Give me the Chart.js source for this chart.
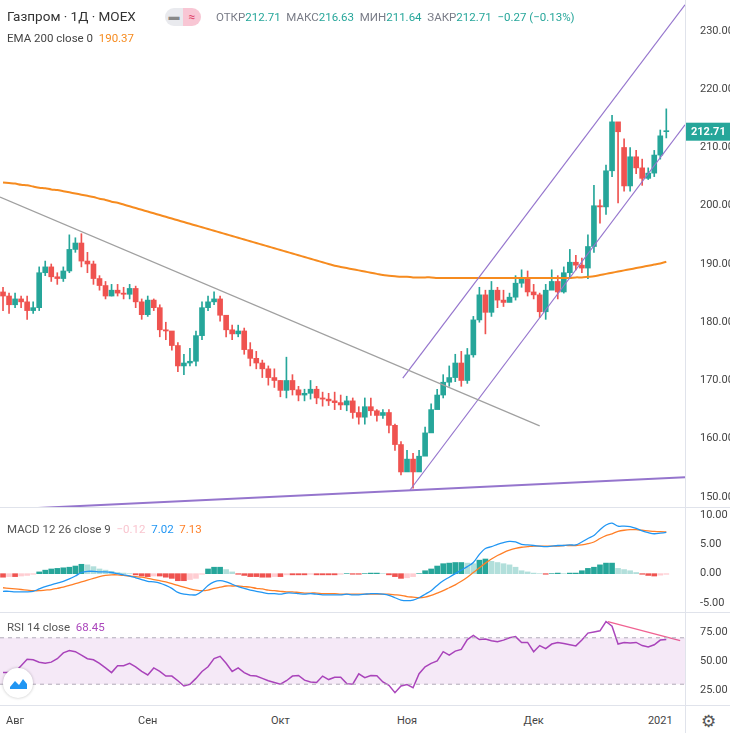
<!DOCTYPE html>
<html>
<head>
<meta charset="utf-8">
<script src="https://cdn.jsdelivr.net/npm/chart.js@4.4.1/dist/chart.umd.min.js"></script>
<style>
  body { margin: 0; background: #fff; font-family: Roboto, "Noto Sans", sans-serif; }
  #wrap { position: relative; width: 730px; height: 733px; overflow: hidden; }
  .pane { position: absolute; left: 0; width: 730px; }
  .sep { position: absolute; background: #e0e3eb; }
  .txt { position: absolute; white-space: nowrap; font-size: 11.5px; color: #555; }
  .xl { position: absolute; top: 714px; font-size: 11px; color: #444; transform: translateX(-50%); }
  .g { color: #787b86; } .t { color: #26a69a; }
</style>
</head>
<body>
<div id="wrap">
  <div class="pane" style="top:0;height:507px"><canvas id="mainChart"></canvas></div>
  <div class="pane" style="top:507px;height:105px"><canvas id="macdChart"></canvas></div>
  <div class="pane" style="top:612px;height:93px"><canvas id="rsiChart"></canvas></div>

  <div class="sep" style="left:0;top:507px;width:730px;height:1px"></div>
  <div class="sep" style="left:0;top:612px;width:730px;height:1px"></div>
  <div class="sep" style="left:0;top:705px;width:730px;height:1px"></div>
  <div class="sep" style="left:685px;top:0;width:1px;height:733px"></div>

  <div class="txt" style="left:7px;top:8px;font-size:13.5px;color:#333">Газпром · 1Д · MOEX</div>
  <div style="position:absolute;left:165px;top:8px;width:36px;height:18px;border-radius:9px;overflow:hidden;display:flex">
    <div style="flex:1;background:#e9eaee;color:#888;font-size:11px;text-align:center;line-height:18px">▬</div>
    <div style="flex:1;background:#f8c6d4;color:#e0476d;font-size:12px;text-align:center;line-height:18px">≈</div>
  </div>
  <div class="txt" style="left:216px;top:10px"><span class="g">ОТКР</span><span class="t">212.71</span>&nbsp; <span class="g">МАКС</span><span class="t">216.63</span>&nbsp; <span class="g">МИН</span><span class="t">211.64</span>&nbsp; <span class="g">ЗАКР</span><span class="t">212.71</span>&nbsp; <span class="t">−0.27 (−0.13%)</span></div>
  <div class="txt" style="left:7px;top:31px;color:#444">EMA 200 close 0&nbsp; <span style="color:#f68b1f">190.37</span></div>
  <div class="txt" style="left:7px;top:522px;color:#555">MACD 12 26 close 9&nbsp; <span style="color:#f9c5cf">−0.12</span>&nbsp; <span style="color:#2196f3">7.02</span>&nbsp; <span style="color:#ff7f27">7.13</span></div>
  <div class="txt" style="left:7px;top:620px;color:#555">RSI 14 close&nbsp; <span style="color:#ab47bc">68.45</span></div>

  <div style="position:absolute;left:3px;top:668px;width:30px;height:30px;border-radius:50%;background:#fff;box-shadow:0 0 3px rgba(0,0,0,0.25)">
    <svg width="30" height="30" viewBox="0 0 30 30"><path d="M7 19 L12 13 L16 17 L20 11 L24 16 L24 21 L7 21 Z" fill="#2196f3"/></svg>
  </div>
  <div class="txt" style="left:701px;top:711px;font-size:17px;color:#555">⚙</div>
  <div id="xLabels"></div>
</div>

<script>
// Candles, Aug 2020 - Jan 2021 (daily)
const opens = [
  185.2,184.5,183,184,183.5,182,182.5,188.5,189.5,187.8,
  187.5,188.8,192.5,193.6,190.5,190,187.5,186.3,184.5,185.5,
  185,184.8,185.8,183.5,181.3,183.8,182.5,178.7,178.5,176,
  172.5,173,173.3,177.7,182.5,183.5,184,181.2,178.7,178,
  178.5,175.3,173.8,173,172,170.5,170,168.3,170,168.4,
  167.5,167.8,168.5,167,166.8,166.5,166.2,165.8,166.5,164.5,
  163.7,165.5,164.8,164,164.5,162.3,159,154.3,156.5,154.3,
  157,161,165,167.5,169.7,170.5,173,170,174.4,180.4,
  184.7,181.7,185.5,183.8,183.4,184.3,186.7,187.6,185.2,184.7,
  181.8,185.5,187,185.2,188.5,190.3,189.8,189.3,193,200,
  199.8,206,214.4,210,203.4,208.4,206.5,204.7,205.6,208.7,
  212.71
];
const highs = [
  186,185,185,184.5,184.5,183.5,189.5,190.5,190,188.5,
  189.5,195,194.5,195.2,192,190.5,188,187,186.5,186.5,
  186,186.5,186.2,184,184.5,184,183,180,177,176.5,
  174.5,175.5,178.5,183.5,184.5,185.2,184.5,181,179.5,179.5,
  179,176.5,175,173.5,172.5,172,170,174,171,169,
  168.5,170,169,168,167.8,168,167.5,167.3,167,165.5,
  167,167,165,165,165,162.5,159.5,158,157.5,158,
  162,166,168.5,171,172.5,174.5,175,175.5,181,186,
  185.5,187,186,185.5,185,188,189,188.8,186.5,185,
  186.5,189,188,189.5,192.5,191.5,191,195,203.5,201,
  207,215.5,213.5,211.5,210,209.5,208,206.5,209.5,213,
  216.63
];
const lows = [
  182,181.5,182.5,182.5,180.5,181.5,182,188,187,186.5,
  187,188.5,192,189.5,188.5,186.5,185.5,184,184.5,184.5,
  184,184,182.5,180.5,181,182,177.5,177,175.2,171.5,
  171,172.5,172.5,177,182,183,180.2,177.5,177,177.5,
  174.5,172.5,172,170.5,169.2,168.8,167.2,167,167.5,166.5,
  166.5,166.8,166,165.6,165.7,165,165,164.8,163.5,162.5,
  162.5,164,163,163.5,161,158,153.8,155,151.5,156,
  159.5,164,166.5,167,169,169.8,169,169.5,174,180,
  178,181,182.5,182.7,183.5,183.8,186,184.5,184,180.8,
  180.5,186.2,184,185,187.5,189,188.5,187.5,192,197,
  198.5,205,200.5,202.5,202.5,205.5,203.5,204.5,205,208,
  211.64
];
const closes = [
  184.5,183,184,183.5,182,182.5,188.5,189.5,187.8,187.5,
  188.8,192.5,193.6,190.5,190,187.5,186.3,184.5,185.5,185,
  184.8,185.8,183.5,181.3,183.8,182.5,178.7,178.5,176,172.5,
  173,173.3,177.7,182.5,183.5,184,181.2,178.7,178,178.5,
  175.3,173.8,173,172,170.5,170,168.3,170,168.4,167.5,
  167.8,168.5,167,166.8,166.5,166.2,165.8,166.5,164.5,163.7,
  165.5,164.8,164,164.5,162.3,159,154.3,156.5,154.3,157,
  161,165,167.5,169.7,170.5,173,170,174.4,180.4,184.7,
  181.7,185.5,183.8,183.4,184.3,186.7,187.6,185.2,184.7,181.8,
  185.5,187,185.2,188.5,190.3,189.8,189.3,193,200,199.8,
  206,214.4,212.7,203.4,208.4,206.5,204.7,205.6,208.7,212,
  212.71
];
const ema200 = [
  204,203.9,203.8,203.6,203.5,203.3,203.1,203,202.8,202.7,
  202.5,202.3,202.1,201.9,201.7,201.5,201.2,201,200.7,200.5,
  200.2,199.9,199.6,199.3,199,198.7,198.4,198.1,197.8,197.5,
  197.2,196.9,196.6,196.3,196,195.7,195.4,195.1,194.8,194.5,
  194.2,193.9,193.6,193.3,193,192.7,192.4,192.1,191.8,191.5,
  191.2,190.9,190.6,190.3,190,189.7,189.5,189.3,189.1,188.9,
  188.7,188.5,188.3,188.1,188,187.9,187.8,187.8,187.7,187.7,
  187.7,187.7,187.6,187.6,187.6,187.6,187.6,187.6,187.6,187.6,
  187.6,187.6,187.6,187.6,187.6,187.6,187.6,187.6,187.6,187.6,
  187.6,187.6,187.6,187.6,187.6,187.7,187.7,187.8,187.9,188.1,
  188.3,188.5,188.7,188.9,189.1,189.3,189.5,189.7,189.9,190.1,
  190.37
];
const macdLine = [
  -3,-3,-3.1,-3.1,-3.1,-3,-2.6,-2.2,-1.9,-1.6,
  -1.3,-0.9,-0.4,0.2,0.4,0.4,0.3,0.3,0.2,0,
  -0.2,-0.4,-0.7,-1,-1.3,-1.4,-1.6,-2,-2.5,-3.2,
  -3.5,-3.6,-3.6,-3,-2,-1.4,-1.2,-1.4,-1.8,-2.2,
  -2.5,-2.8,-3,-3.2,-3.4,-3.4,-3.5,-3.3,-3.3,-3.4,
  -3.5,-3.4,-3.5,-3.6,-3.6,-3.6,-3.6,-3.5,-3.6,-3.6,
  -3.5,-3.4,-3.4,-3.5,-3.7,-4.1,-4.5,-4.6,-4.5,-4.1,
  -3.5,-2.9,-2,-1.2,-0.6,0,0.6,1.2,1.9,3.3,
  4.3,4.6,5,5.3,5.5,5.4,5,4.9,4.8,4.7,
  4.6,4.7,4.8,4.8,4.9,4.9,5.4,6,6.5,7.5,
  8.3,8.6,8.1,8.1,8,7.7,7.3,7,6.8,6.9,7.02
];
const signalLine = [
  -2.4,-2.5,-2.6,-2.7,-2.8,-2.9,-2.9,-2.8,-2.7,-2.5,
  -2.3,-2,-1.7,-1.4,-1.1,-0.8,-0.5,-0.3,-0.2,-0.2,
  -0.3,-0.4,-0.5,-0.6,-0.8,-1,-1.2,-1.4,-1.7,-2,
  -2.3,-2.6,-2.8,-2.9,-2.8,-2.5,-2.3,-2.1,-2.1,-2.1,
  -2.2,-2.3,-2.5,-2.6,-2.8,-2.9,-3,-3.1,-3.1,-3.2,
  -3.3,-3.3,-3.3,-3.4,-3.4,-3.4,-3.5,-3.5,-3.5,-3.5,
  -3.5,-3.5,-3.5,-3.5,-3.5,-3.6,-3.7,-3.9,-4,-4.1,
  -4,-3.7,-3.3,-2.9,-2.4,-1.9,-1.3,-0.6,0.2,1,
  1.8,2.5,3.1,3.6,4,4.3,4.5,4.6,4.7,4.7,
  4.7,4.7,4.7,4.8,4.8,4.8,4.9,5.1,5.4,6,
  6.5,6.8,7.2,7.4,7.5,7.5,7.4,7.3,7.2,7.15,7.13
];
const rsi14 = [
  40,40,40.5,46,51.5,51,49,48,49,52,
  57,59,58,55,52,51,48,44,40,46,
  46,48,45,41,38,44,41,37,37,33,
  28.5,30,35,41,45,52,54,48,41,44,
  40,37.5,37,35,33,31.5,30,33,37,37.5,
  33.5,32,31.5,37,34,36,36,30.5,30,39,
  35.6,37.5,37.4,32,29,22.7,28.5,29.7,27,39,
  45,48,50,58,55,58.5,60,68.5,72,68.5,
  69,67.5,66.5,68,70,71,66,66,58,63.3,
  60.7,64.6,66,65,64,63,68,74,75,76,
  84,80,64.6,66,65.5,66,63.3,62,64,68,68.45
];

// drawings: [bar index, price]
const downTrend = [[-0.5, 201.5], [89, 162.2]];
const channelLow = [[67.5, 151.2], [113.1, 213.9]];
const channelHigh = [[66.3, 170.4], [113.1, 234.5]];
const supportLine = [[-0.5, 147.8], [113.1, 153.4]];
const rsiDivergence = [[100.3, 84], [112.3, 67.5]];

const priceTicks = [150, 160, 170, 180, 190, 200, 210, 220, 230];
const macdTicks = [-5, 0, 5, 10];
const rsiTicks = [25, 50, 75];
const monthTicks = [2, 24, 46, 67, 88, 109];
const monthLabels = ['Авг', 'Сен', 'Окт', 'Ноя', 'Дек', '2021'];

const UP = '#26a69a', DOWN = '#ef5350';
const X_MIN = -0.5, X_MAX = 113.1;

const pts = arr => arr.map(p => ({ x: p[0], y: p[1] }));
const series = arr => arr.map((v, i) => ({ x: i, y: v }));

function yAxis(min, max, tickList) {
  return {
    position: 'right', min, max,
    grid: { display: false }, border: { display: false },
    ticks: { color: '#444', font: { family: 'Roboto', size: 11 }, padding: 7,
      callback: v => v.toFixed(2) },
    afterBuildTicks: s => { s.ticks = tickList.map(v => ({ value: v })); },
    afterFit: s => { s.width = 45; s.paddingTop = 0; s.paddingBottom = 0; }
  };
}
const xAxis = { type: 'linear', min: X_MIN, max: X_MAX, display: false, offset: false };

function baseOptions(y) {
  return {
    responsive: true, maintainAspectRatio: false, animation: false,
    layout: { padding: 0 },
    plugins: { legend: { display: false }, tooltip: { enabled: false } },
    scales: { x: xAxis, y }
  };
}

const candleColor = closes.map((c, i) => c >= opens[i] ? UP : DOWN);

// last price tag
const lastTag = {
  id: 'lastTag',
  afterDraw(chart) {
    const { ctx } = chart;
    const y = chart.scales.y.getPixelForValue(closes[closes.length - 1]);
    ctx.save();
    ctx.fillStyle = UP;
    ctx.fillRect(686, y - 9, 44, 18);
    ctx.fillStyle = '#fff';
    ctx.font = 'bold 11px Roboto';
    ctx.textBaseline = 'middle';
    ctx.fillText(closes[closes.length - 1].toFixed(2), 691, y + 1);
    ctx.restore();
  }
};

new Chart(document.getElementById('mainChart'), {
  type: 'bar',
  data: {
    datasets: [
      { type: 'line', data: pts(supportLine), borderColor: '#9575cd', borderWidth: 2, pointRadius: 0 },
      { type: 'line', data: pts(downTrend), borderColor: '#a0a0a0', borderWidth: 1.2, pointRadius: 0 },
      { type: 'line', data: pts(channelLow), borderColor: '#9575cd', borderWidth: 1.2, pointRadius: 0 },
      { type: 'line', data: pts(channelHigh), borderColor: '#9575cd', borderWidth: 1.2, pointRadius: 0 },
      { type: 'line', data: series(ema200), borderColor: '#f68b1f', borderWidth: 2, pointRadius: 0, tension: 0.3 },
      { data: lows.map((l, i) => ({ x: i, y: [l, highs[i]] })), backgroundColor: candleColor, barThickness: 1, grouped: false },
      { data: opens.map((o, i) => ({ x: i, y: [o, closes[i]] })), backgroundColor: candleColor, barThickness: 5, minBarLength: 1, grouped: false }
    ]
  },
  options: baseOptions(yAxis(148.28, 235.32, priceTicks)),
  plugins: [lastTag]
});

const hist = macdLine.map((m, i) => +(m - signalLine[i]).toFixed(2));
const histColor = hist.map((h, i) => {
  const prev = i ? hist[i - 1] : h;
  if (h >= 0) return h >= prev ? '#26a69a' : '#b2dfdb';
  return h <= prev ? '#ef5350' : '#ffcdd2';
});

new Chart(document.getElementById('macdChart'), {
  type: 'bar',
  data: {
    datasets: [
      { type: 'line', data: series(macdLine), borderColor: '#2196f3', borderWidth: 1.3, pointRadius: 0, tension: 0.3 },
      { type: 'line', data: series(signalLine), borderColor: '#ff7f27', borderWidth: 1.3, pointRadius: 0, tension: 0.3 },
      { data: series(hist), backgroundColor: histColor, barThickness: 5, grouped: false }
    ]
  },
  options: baseOptions(yAxis(-6.53, 11.36, macdTicks))
});

const rsiChart = new Chart(document.getElementById('rsiChart'), {
  type: 'line',
  data: {
    datasets: [
      { data: [{ x: X_MIN, y: 30 }, { x: X_MAX, y: 30 }], borderColor: '#b0aab8', borderWidth: 1, borderDash: [4, 4], pointRadius: 0 },
      { data: [{ x: X_MIN, y: 70 }, { x: X_MAX, y: 70 }], borderColor: '#b0aab8', borderWidth: 1, borderDash: [4, 4], pointRadius: 0,
        fill: '-1', backgroundColor: 'rgba(156, 39, 176, 0.1)' },
      { data: series(rsi14), borderColor: '#ab47bc', borderWidth: 1.5, pointRadius: 0 },
      { data: pts(rsiDivergence), borderColor: '#f06292', borderWidth: 1.3, pointRadius: 0 }
    ]
  },
  options: baseOptions(yAxis(12.1, 92.2, rsiTicks))
});

// month labels on the time axis
const xs = rsiChart.scales.x;
document.getElementById('xLabels').innerHTML = monthTicks.map((t, i) =>
  `<div class="xl" style="left:${xs.getPixelForValue(t)}px">${monthLabels[i]}</div>`).join('');
</script>
</body>
</html>
